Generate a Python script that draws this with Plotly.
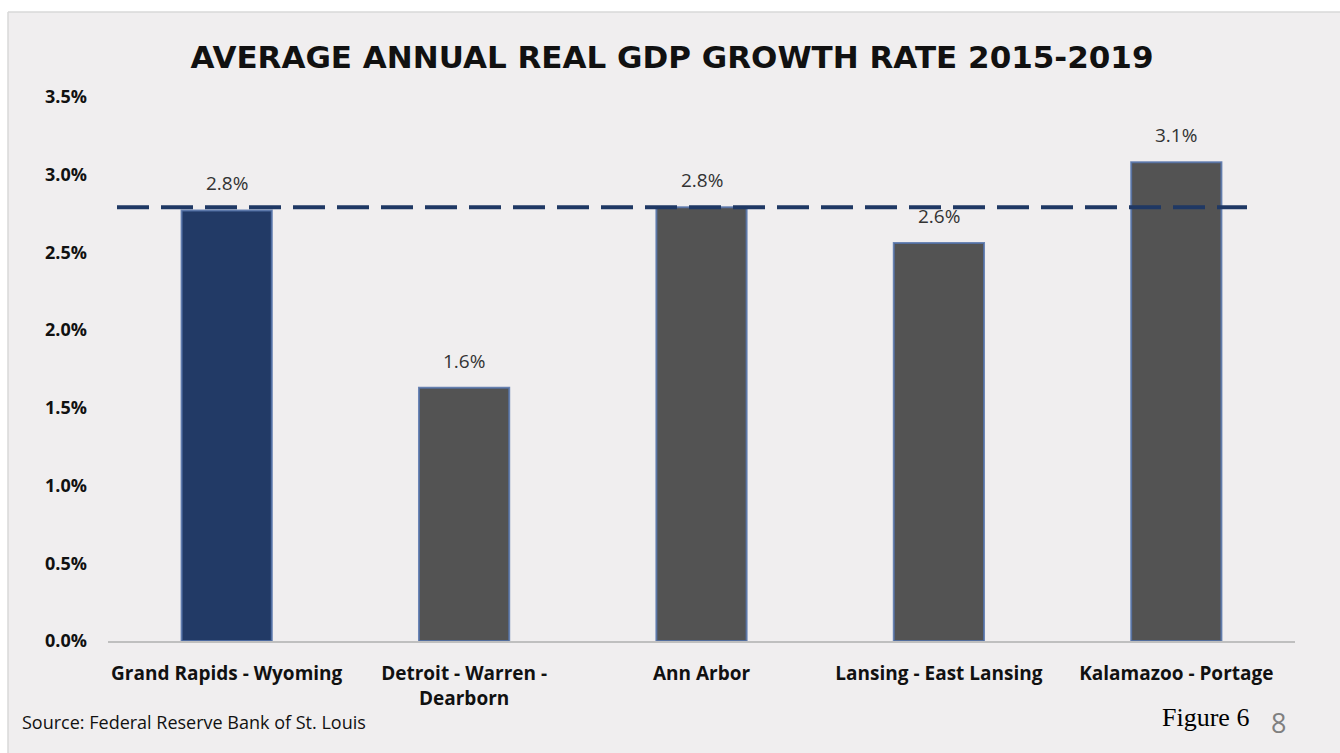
import plotly.graph_objects as go

# Metro areas and their average annual real GDP growth (fractions)
metros = [
    "Grand Rapids - Wyoming",
    "Detroit - Warren -<br>Dearborn",
    "Ann Arbor",
    "Lansing - East Lansing",
    "Kalamazoo - Portage",
]
growth = [0.0277, 0.0163, 0.0279, 0.0256, 0.0308]
bar_colors = ["#223a66", "#535353", "#535353", "#535353", "#535353"]
reference_rate = 0.0279  # dashed benchmark line

panel_bg = "#f0eeef"
W, H = 1340, 753
L, R, T, B = 108, 45, 97, 112
pw, ph = W - L - R, H - T - B


def px_x(x):
    return (x - L) / pw


def px_y(y):
    return (H - B - y) / ph


fig = go.Figure()
fig.add_trace(go.Bar(
    x=metros,
    y=growth,
    marker=dict(color=bar_colors, line=dict(color="rgba(85,115,170,0.85)", width=2)),
    hoverinfo="skip",
))

# value labels above each bar
for m, v in zip(metros, growth):
    fig.add_annotation(
        x=m, y=v, xref="x", yref="y",
        text=f"{v * 100:.1f}%", showarrow=False,
        yanchor="bottom", yshift=12,
        font=dict(family="Open Sans", size=19, color="#333333"),
    )

shapes = [
    # benchmark dashed line
    dict(type="line", xref="paper", yref="y",
         x0=px_x(117), x1=px_x(1247), y0=reference_rate, y1=reference_rate,
         line=dict(color="#1f3864", width=4, dash="32px,12px"), layer="above"),
    # white page margin around the panel
    dict(type="rect", xref="paper", yref="paper",
         x0=px_x(0), x1=px_x(W), y0=px_y(0), y1=px_y(12),
         fillcolor="white", line=dict(width=0), layer="below"),
    dict(type="rect", xref="paper", yref="paper",
         x0=px_x(0), x1=px_x(8), y0=px_y(0), y1=px_y(H),
         fillcolor="white", line=dict(width=0), layer="below"),
    dict(type="line", xref="paper", yref="paper",
         x0=px_x(8), x1=px_x(W), y0=px_y(12), y1=px_y(12),
         line=dict(color="#d9d9d9", width=1.5), layer="below"),
    dict(type="line", xref="paper", yref="paper",
         x0=px_x(8), x1=px_x(8), y0=px_y(12), y1=px_y(H),
         line=dict(color="#d9d9d9", width=1.5), layer="below"),
]

annotations_extra = [
    dict(text="Source: Federal Reserve Bank of St. Louis", xref="paper", yref="paper",
         x=px_x(20), y=px_y(722), xanchor="left", yanchor="middle", showarrow=False,
         font=dict(family="Open Sans", size=18, color="#111111")),
    dict(text="Figure 6", xref="paper", yref="paper",
         x=px_x(1251), y=px_y(717), xanchor="right", yanchor="middle", showarrow=False,
         font=dict(family="Liberation Serif", size=26, color="#000000")),
    dict(text="8", xref="paper", yref="paper",
         x=px_x(1278), y=px_y(722), xanchor="center", yanchor="middle", showarrow=False,
         font=dict(family="Open Sans", size=27, color="#7f7f7f")),
]
for a in annotations_extra:
    fig.add_annotation(**a)

fig.update_layout(
    width=W, height=H,
    margin=dict(l=L, r=R, t=T, b=B),
    paper_bgcolor=panel_bg,
    plot_bgcolor=panel_bg,
    showlegend=False,
    bargap=0.62,
    shapes=shapes,
    title=dict(
        text="<b>AVERAGE ANNUAL REAL GDP GROWTH RATE 2015-2019</b>",
        x=px_x(672), xanchor="center", xref="paper",
        y=1 - 57 / H, yanchor="middle",
        font=dict(family="DejaVu Sans", size=31, color="#111111"),
    ),
    yaxis=dict(
        range=[0, 0.035], dtick=0.005, tickformat=".1%",
        showgrid=False, zeroline=False, showline=False,
        ticklabelstandoff=20,
        tickfont=dict(family="Open Sans", size=18, color="#111111", weight="bold"),
        fixedrange=True,
    ),
    xaxis=dict(
        showline=True, linecolor="#bfbfbf", linewidth=2,
        showgrid=False, ticks="",
        ticklabelstandoff=14,
        tickfont=dict(family="Open Sans", size=19, color="#111111", weight="bold"),
        fixedrange=True,
    ),
)

fig.write_html("out.html")
